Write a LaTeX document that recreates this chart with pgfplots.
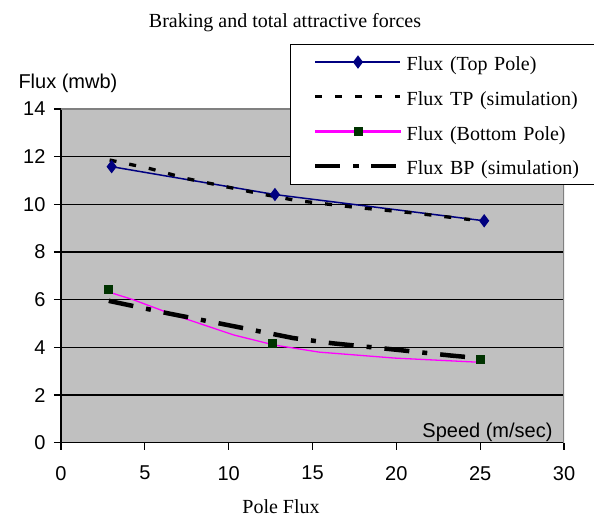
\documentclass[border=0pt]{standalone}
\usepackage{fontspec}
\setmainfont{Liberation Serif}
\newfontfamily\arial{Liberation Sans}
\usepackage{pgfplots}
\pgfplotsset{compat=1.18}
\definecolor{plotgray}{RGB}{192,192,192}
\definecolor{framegray}{RGB}{128,128,128}
\definecolor{topnavy}{RGB}{0,0,128}
\definecolor{botgreen}{RGB}{0,51,0}
\definecolor{pinkline}{RGB}{255,0,255}

\begin{document}
\begin{tikzpicture}
\begin{axis}[
  scale only axis, width=503bp, height=333.7bp,
  xmin=0, xmax=30, ymin=0, ymax=14,
  xtick={0,5,...,30}, ytick={0,2,...,14},
  axis x line*=bottom, axis y line*=left,
  axis line style={black, line width=1.2bp, -},
  tick align=outside, major tick length=7bp,
  tick style={black, line width=1.2bp},
  ymajorgrids, grid style={black, line width=1.1bp},
  axis background/.style={fill=plotgray},
  tick label style={font=\arial\fontsize{20bp}{24bp}\selectfont},
  xticklabel shift=13bp, yticklabel shift=5bp,
  /pgf/number format/assume math mode=true,
  legend image code/.code={\draw[mark repeat=2,mark phase=2,#1] plot coordinates {(0bp,0bp) (42.5bp,0bp) (85bp,0bp)};},
  legend cell align=left,
  legend style={at={(0.4553,1.1948)}, anchor=north west, draw=black, fill=white,
    inner xsep=23bp, inner ysep=4bp, row sep=7bp, column sep=4bp,
    font=\fontsize{20bp}{24bp}\selectfont,
    nodes={inner sep=0pt, text height=22.7bp, text depth=5bp},
    /tikz/every even column/.append style={text width=205bp, align=left}},
]
% frame on top and right
\draw[framegray, line width=1.2bp] (rel axis cs:0,1) -- (rel axis cs:1,1) -- (rel axis cs:1,0);

\addplot[topnavy, line width=1.5bp, mark=diamond*, mark size=5.5bp,
  mark options={fill=topnavy, draw=topnavy, solid}]
  coordinates {(3.02,11.58) (12.76,10.41) (25.24,9.31)};
\addlegendentry{Flux (Top Pole)}

\addplot[black, line width=3.3bp, dash pattern=on 7bp off 13bp]
  coordinates {(2.9,11.86) (5.3,11.5) (7.5,11.08) (9.7,10.76) (11.9,10.44)
               (14.05,10.16) (17.6,9.87) (21.0,9.64) (24.4,9.36)};
\addlegendentry{Flux TP (simulation)}

\addplot[pinkline, line width=1.3bp, forget plot]
  coordinates {(2.85,6.32) (4.3,6.0) (6.7,5.37) (10.3,4.52) (12.7,4.1)
               (15.4,3.8) (19.9,3.55) (24.8,3.38)};

\addplot[only marks, mark=square*, mark size=4bp,
  mark options={fill=botgreen, draw=botgreen},
  legend image code/.code={
    \fill[pinkline] (0bp,-0.9bp) rectangle (85bp,0.9bp);
    \fill[botgreen] (38.5bp,-4bp) rectangle (46.5bp,4bp);}]
  coordinates {(2.82,6.45) (12.58,4.19) (25.03,3.50)};
\addlegendentry{Flux (Bottom Pole)}

\addplot[black, line width=4.5bp, dash pattern=on 25bp off 13bp on 5bp off 13bp]
  coordinates {(2.85,5.95) (6.5,5.41) (9.7,4.97) (13.85,4.39) (16.2,4.17)
               (20.0,3.9) (23.2,3.66) (24.6,3.57)};
\addlegendentry{Flux BP (simulation)}
\end{axis}
\node[anchor=base, font=\fontsize{20bp}{24bp}\selectfont] at (224bp,414.7bp) {Braking and total attractive forces};
\node[anchor=base west, font=\arial\fontsize{20bp}{24bp}\selectfont] at (-46bp,353.7bp) {Flux (mwb)};
\node[anchor=base east, font=\arial\fontsize{20bp}{24bp}\selectfont] at (495bp,5.7bp) {Speed (m/sec)};
\node[anchor=base, font=\fontsize{20bp}{24bp}\selectfont] at (220bp,-70.3bp) {Pole Flux};
\pgfresetboundingbox
\useasboundingbox (-61bp,-77.3bp) rectangle (533bp,442.7bp);
\end{tikzpicture}
\end{document}
